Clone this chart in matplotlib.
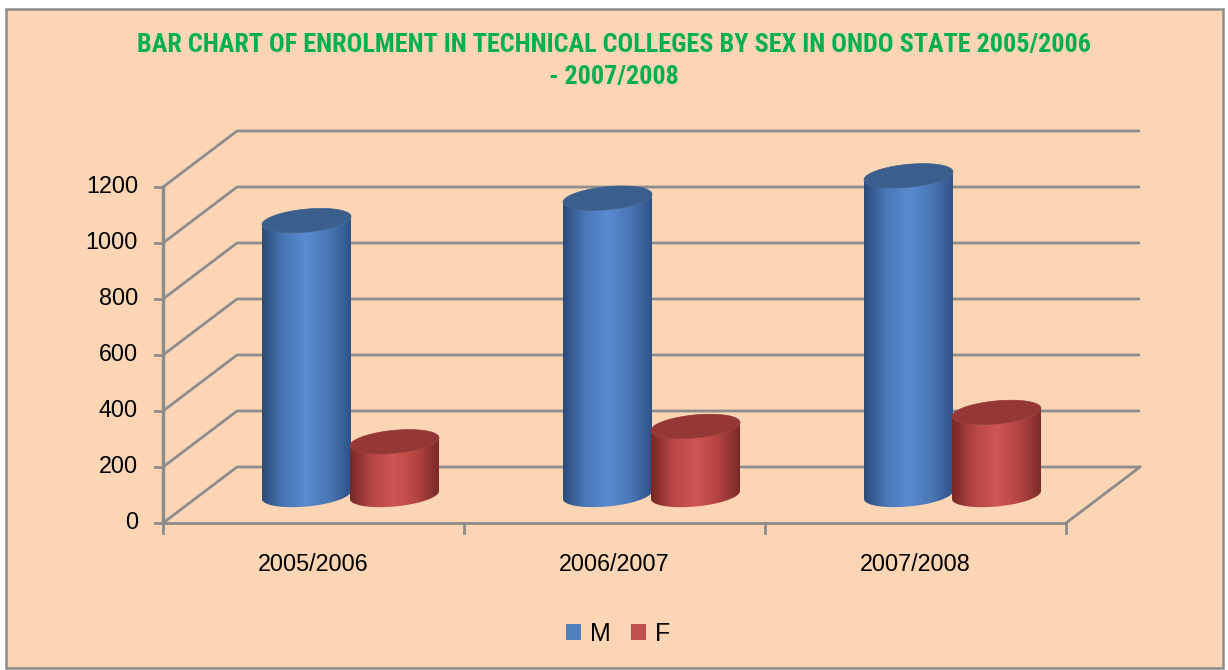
import numpy as np
import matplotlib
matplotlib.use('Agg')
import matplotlib.pyplot as plt
from matplotlib import font_manager
from matplotlib.patches import Rectangle, Polygon, Patch
from matplotlib.colors import LinearSegmentedColormap

# data
categories = ['2005/2006', '2006/2007', '2007/2008']
male = [980, 1060, 1140]
female = [190, 245, 295]
y_ticks = [0, 200, 400, 600, 800, 1000, 1200]

BG = '#FCD5B4'
GRID = '#8C8C8C'

# pick a narrow font for the title if one is installed
names = {f.name for f in font_manager.fontManager.ttflist}
narrow = [f for f in ['Liberation Sans Narrow', 'Roboto Condensed', 'DejaVu Sans Condensed',
                      'Open Sans Condensed'] if f in names]
title_font = narrow[0] if narrow else 'DejaVu Sans'
title_size = 18.8 if narrow else 14

W, H = 1228, 670
fig = plt.figure(figsize=(W / 100, H / 100), dpi=100, facecolor='white')
fig.patches.append(Rectangle((6 / W, 1 - 668 / H), 1217 / W, 659 / H, transform=fig.transFigure,
                             facecolor=BG, edgecolor=GRID, lw=1.8, zorder=-5))

# pixel geometry of the plot area -> data units
X0, Y0 = 163, 523          # pixel position of (0, 0)
PX_CAT, PX_VAL = 301, 0.28  # pixels per category / per value unit
XL, YL = (-0.1, 3.35), (-60, 1450)
left = X0 + XL[0] * PX_CAT
right = X0 + XL[1] * PX_CAT
bot = Y0 - YL[0] * PX_VAL
top = Y0 - YL[1] * PX_VAL
ax = fig.add_axes([left / W, 1 - bot / H, (right - left) / W, (bot - top) / H], zorder=2)
ax.set_xlim(*XL)
ax.set_ylim(*YL)
ax.axis('off')

DX, DY = 74 / PX_CAT, 56 / PX_VAL   # depth offset
n = len(categories)

# walls and gridlines
for v in y_ticks:
    ax.plot([0, DX, n + DX], [v, v + DY, v + DY], color=GRID, lw=2, zorder=1, solid_capstyle='butt')
ax.plot([n, n + DX], [0, DY], color=GRID, lw=2, zorder=1)
ax.plot([0, n], [0, 0], color=GRID, lw=2, zorder=1)
ax.plot([0, 0], [0, y_ticks[-1]], color=GRID, lw=2.5, zorder=1)
for v in y_ticks:
    ax.plot([-8 / PX_CAT, 0], [v, v], color=GRID, lw=2, zorder=1)
    ax.annotate(str(v), (0, v), xytext=(-18, 0), textcoords='offset points', ha='right', va='center',
                fontsize=16.8, family='Liberation Sans', color='black')
for i in range(n + 1):
    ax.plot([i, i], [0, -10 / PX_VAL], color=GRID, lw=2, zorder=1)
for i, c in enumerate(categories):
    ax.annotate(c, (i + 0.5, 0), xytext=(0, -30), textcoords='offset points', ha='center', va='center',
                fontsize=16.8, family='Liberation Sans', color='black')

# cylinders
R = 44.5 / PX_CAT
B = 11.5 / PX_VAL
S = 4 / PX_VAL
OFF = 44 / PX_CAT
styles = {
    'M': (['#2c4b78', '#4a78b8', '#5a8bd0', '#4a78b6', '#2f5287'], '#3b5f8d'),
    'F': (['#772826', '#b74745', '#cf5654', '#b54442', '#7a2a28'], '#953735'),
}


def ell(cx, cy, t):
    return cx + R * np.cos(t), cy + B * np.sin(t) + S * np.cos(t)


def cylinder(cx, value, key, z):
    body_cols, top_col = styles[key]
    y_b = DY / 2
    y_t = value + DY / 2
    t_front = np.linspace(np.pi, 2 * np.pi, 60)
    xb, yb = ell(cx, y_b, t_front)
    xt, yt = ell(cx, y_t, t_front)
    pts = np.vstack([np.column_stack([xt, yt]), np.column_stack([xb[::-1], yb[::-1]])])
    poly = Polygon(pts, closed=True, facecolor='none', edgecolor='none', zorder=z)
    ax.add_patch(poly)
    cmap = LinearSegmentedColormap.from_list(key, body_cols)
    grad = np.linspace(0, 1, 256)[None, :]
    im = ax.imshow(grad, cmap=cmap, aspect='auto', zorder=z, interpolation='bilinear',
                   extent=[cx - R, cx + R, y_b - B - S, y_t + B + S], origin='lower')
    im.set_clip_path(poly)
    tt = np.linspace(0, 2 * np.pi, 120)
    xe, ye = ell(cx, y_t, tt)
    ax.add_patch(Polygon(np.column_stack([xe, ye]), closed=True, facecolor=top_col,
                         edgecolor=top_col, lw=0.5, zorder=z + 0.5))


for i in range(n):
    mid = i + 0.5 + DX / 2
    cylinder(mid - OFF, male[i], 'M', 3)
    cylinder(mid + OFF, female[i], 'F', 4)
ax.set_xlim(*XL)
ax.set_ylim(*YL)

# title
fig.text(614 / W, 1 - 45 / H, 'BAR CHART OF ENROLMENT IN TECHNICAL COLLEGES BY SEX IN ONDO STATE 2005/2006',
         ha='center', va='center', fontsize=title_size, fontweight='bold', color='#00B050',
         family=title_font)
fig.text(614 / W, 1 - 77 / H, '- 2007/2008', ha='center', va='center', fontsize=title_size, fontweight='bold',
         color='#00B050', family=title_font)

# legend
handles = [Patch(facecolor='#4F81BD', label='M'), Patch(facecolor='#C0504D', label='F')]
fig.legend(handles=handles, loc='center', bbox_to_anchor=(618 / W, 1 - 634 / H), ncol=2, frameon=False,
           prop={'family': 'Liberation Sans', 'size': 18}, handlelength=0.62, handleheight=0.62,
           handletextpad=0.35, columnspacing=0.8)

fig.savefig('out.png', dpi=100, facecolor='white')
